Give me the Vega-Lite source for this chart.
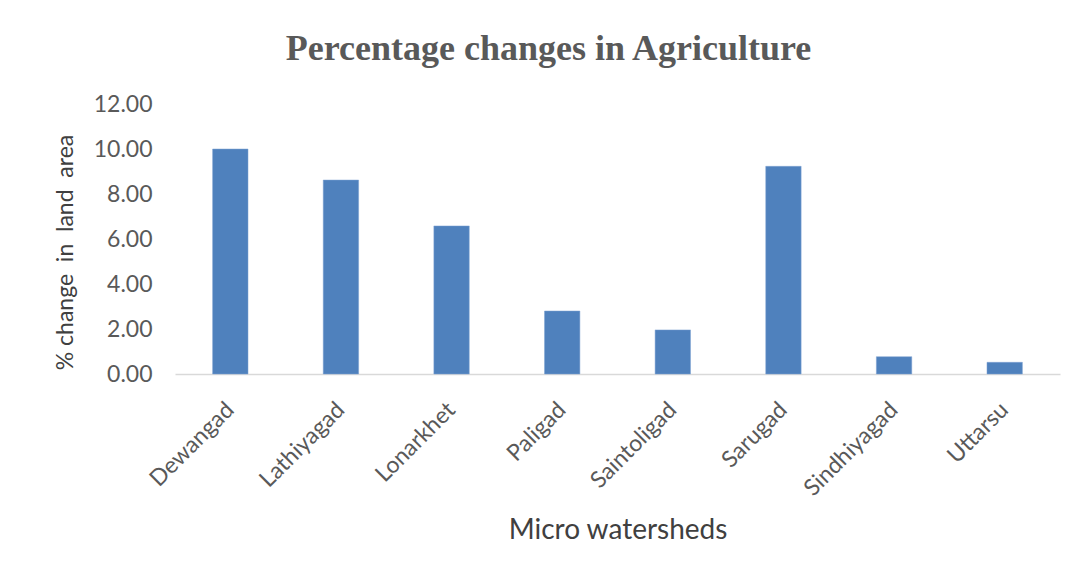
{
  "$schema": "https://vega.github.io/schema/vega-lite/v6.json",
  "autosize": "none",
  "width": 885,
  "height": 270,
  "padding": {"left": 175, "top": 104, "right": 19, "bottom": 208},
  "background": "white",
  "title": {
    "text": "Percentage changes in Agriculture",
    "font": "Liberation Serif",
    "fontSize": 36,
    "fontWeight": "bold",
    "color": "#595959",
    "anchor": "middle",
    "dx": -69,
    "offset": 25
  },
  "data": {
    "values": [
      {"watershed": "Dewangad", "change": 10.0},
      {"watershed": "Lathiyagad", "change": 8.62},
      {"watershed": "Lonarkhet", "change": 6.58},
      {"watershed": "Paligad", "change": 2.8},
      {"watershed": "Saintoligad", "change": 1.96},
      {"watershed": "Sarugad", "change": 9.23},
      {"watershed": "Sindhiyagad", "change": 0.77},
      {"watershed": "Uttarsu", "change": 0.52}
    ]
  },
  "mark": {"type": "bar", "color": "#4F81BD", "stroke": "#7FA3D3", "strokeWidth": 0.5},
  "encoding": {
    "x": {
      "field": "watershed",
      "type": "nominal",
      "sort": null,
      "scale": {"paddingInner": 0.68, "paddingOuter": 0.34},
      "axis": {
        "title": "Micro watersheds",
        "titleFont": "Lato",
        "titleFontSize": 28,
        "titleFontWeight": "normal",
        "titleColor": "#404040",
        "titleY": 142,
        "titleBaseline": "top",
        "labelAngle": -45,
        "labelAlign": "right",
        "labelBaseline": "middle",
        "labelFont": "Lato",
        "labelFontSize": 23,
        "labelColor": "#595959",
        "labelPadding": 32,
        "labelDx": 13,
        "labelDy": 16,
        "ticks": false,
        "domainColor": "#D9D9D9",
        "domainWidth": 1.5,
        "grid": false
      }
    },
    "y": {
      "field": "change",
      "type": "quantitative",
      "scale": {"domain": [0, 12], "nice": false},
      "axis": {
        "title": "% change\u00a0 in\u00a0 land\u00a0 area",
        "titleFont": "Lato",
        "titleFontSize": 23,
        "titleFontWeight": "normal",
        "titleColor": "#404040",
        "titleX": -110,
        "titleY": 148,
        "titleAlign": "center",
        "titleBaseline": "middle",
        "values": [0, 2, 4, 6, 8, 10, 12],
        "format": ".2f",
        "labelFont": "Lato",
        "labelFontSize": 23,
        "labelColor": "#595959",
        "labelPadding": 23,
        "ticks": false,
        "domain": false,
        "grid": false
      }
    }
  },
  "config": {"view": {"stroke": null}}
}
